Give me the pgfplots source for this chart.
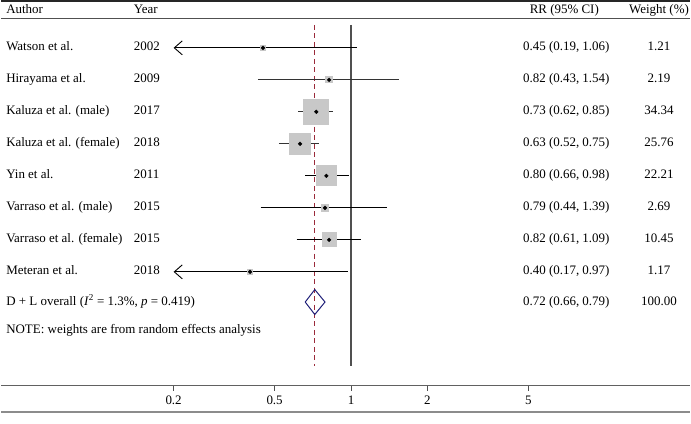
\documentclass[border=0pt]{standalone}
\usepackage{pgfplots}
\pgfplotsset{compat=1.18}
\usepackage{pgfplotstable}
\usepackage{fontspec}
\setmainfont{Liberation Serif}
\usetikzlibrary{arrows.meta}
\definecolor{boxgray}{HTML}{C8C8C8}
\definecolor{refred}{HTML}{9A2A3A}
\definecolor{dnavy}{HTML}{1F1F78}
\definecolor{rulegray}{HTML}{505050}

\pgfplotstableread{
y     est   lo    hi    w
48.0  0.45  0.19  1.06  1.21
80.1  0.82  0.43  1.54  2.19
112.2 0.73  0.62  0.85  34.34
144.3 0.63  0.52  0.75  25.76
176.4 0.80  0.66  0.98  22.21
208.5 0.79  0.44  1.39  2.69
240.6 0.82  0.61  1.09  10.45
272.7 0.40  0.17  0.97  1.17
}\studies

\begin{document}
\fontsize{13}{15}\selectfont
\begin{tikzpicture}[x=1pt,y=1pt]
\path (0,0) rectangle (691,425);
\begin{axis}[
  at={(0,0)}, anchor=south west,
  scale only axis, width=691pt, height=425pt,
  xmode=log, xmin=0.0418, xmax=21.65,
  ymin=0, ymax=425, y dir=reverse,
  axis lines=none, ticks=none, clip=false,
]
% reference lines
\addplot[rulegray, line width=1.1pt] coordinates {(1,25) (1,367)};
\addplot[refred, line width=1pt, dash pattern=on 5pt off 3.5pt] coordinates {(0.72,25) (0.72,367)};
% weight boxes
\addplot[only marks, mark=square*, scatter,
  visualization depends on={2.135*sqrt(\thisrow{w}) \as \msize},
  scatter/@pre marker code/.code={\scope[draw=boxgray, fill=boxgray, line width=0pt]\pgfsetplotmarksize{\msize pt}},
  scatter/@post marker code/.code={\endscope}]
  table[x=est, y=y] {\studies};
% confidence intervals
\addplot[black, line width=0.9pt, {Straight Barb[length=8pt,width=14pt,line width=0.9pt]}-] coordinates {(0.2,48.0) (1.06,48.0)};
\addplot[black!80, line width=0.9pt] coordinates {(0.43,80.1) (1.54,80.1)};
\addplot[black!80, line width=0.9pt] coordinates {(0.62,112.2) (0.85,112.2)};
\addplot[black!80, line width=0.9pt] coordinates {(0.52,144.3) (0.75,144.3)};
\addplot[black, line width=0.9pt] coordinates {(0.66,176.4) (0.98,176.4)};
\addplot[black, line width=0.9pt] coordinates {(0.44,208.5) (1.39,208.5)};
\addplot[black, line width=0.9pt] coordinates {(0.61,240.6) (1.09,240.6)};
\addplot[black, line width=0.9pt, {Straight Barb[length=8pt,width=14pt,line width=0.9pt]}-] coordinates {(0.2,272.7) (0.97,272.7)};
% point estimates
\addplot[only marks, mark=*, mark size=1.9pt, black] table[x=est, y=y] {\studies};
% overall diamond
\addplot[dnavy, line width=1pt] coordinates {(0.66,303) (0.72,290.5) (0.79,303) (0.72,315.5) (0.66,303)};
% bottom axis ticks
\draw[rulegray, line width=0.9pt] (axis cs:0.2,387) -- (axis cs:0.2,392);
\draw[rulegray, line width=0.9pt] (axis cs:0.5,387) -- (axis cs:0.5,392);
\draw[rulegray, line width=0.9pt] (axis cs:1,387) -- (axis cs:1,392);
\draw[rulegray, line width=0.9pt] (axis cs:2,387) -- (axis cs:2,392);
\draw[rulegray, line width=0.9pt] (axis cs:5,387) -- (axis cs:5,392);
\node[inner sep=0pt] at (axis cs:0.2,401.5) {0.2};
\node[inner sep=0pt] at (axis cs:0.5,401.5) {0.5};
\node[inner sep=0pt] at (axis cs:1,401.5) {1};
\node[inner sep=0pt] at (axis cs:2,401.5) {2};
\node[inner sep=0pt] at (axis cs:5,401.5) {5};
\end{axis}
% rules
\draw[black!85, line width=1.6pt] (0,424.2) -- (691,424.2);
\draw[rulegray, line width=1.1pt] (0,406) -- (691,406);
\draw[rulegray!90, line width=1.2pt] (0,38) -- (691,38);
\draw[gray!90, line width=2.2pt] (0,12) -- (691,12);
% header
\node[anchor=base west, inner sep=0pt] at (5,411) {Author};
\node[anchor=base west, inner sep=0pt] at (133,411) {Year};
\node[anchor=base, inner sep=0pt] at (565,411) {RR (95\% CI)};
\node[anchor=base, inner sep=0pt] at (660,411) {Weight (\%)};
% rows
\foreach \py/\a/\yr/\rr/\wt in {
  48.0/Watson et al./2002/{0.45 (0.19, 1.06)}/1.21,
  80.1/Hirayama et al./2009/{0.82 (0.43, 1.54)}/2.19,
  112.2/Kaluza et al. (male)/2017/{0.73 (0.62, 0.85)}/34.34,
  144.3/Kaluza et al. (female)/2018/{0.63 (0.52, 0.75)}/25.76,
  176.4/Yin et al./2011/{0.80 (0.66, 0.98)}/22.21,
  208.5/Varraso et al. (male)/2015/{0.79 (0.44, 1.39)}/2.69,
  240.6/Varraso et al. (female)/2015/{0.82 (0.61, 1.09)}/10.45,
  272.7/Meteran et al./2018/{0.40 (0.17, 0.97)}/1.17} {
  \node[anchor=west, inner sep=0pt] at (5,425-\py) {\strut\a};
  \node[anchor=west, inner sep=0pt] at (133,425-\py) {\strut\yr};
  \node[inner sep=0pt] at (567,425-\py) {\strut\rr};
  \node[inner sep=0pt] at (660,425-\py) {\strut\wt};
}
\node[anchor=west, inner sep=0pt] at (5,425-303) {\strut D + L overall (\textit{I}\textsuperscript{2} = 1.3\%, \textit{p} = 0.419)};
\node[inner sep=0pt] at (567,425-303) {\strut 0.72 (0.66, 0.79)};
\node[inner sep=0pt] at (660,425-303) {\strut 100.00};
\node[anchor=west, inner sep=0pt] at (5,425-332) {\strut NOTE: weights are from random effects analysis};
\end{tikzpicture}
\end{document}
